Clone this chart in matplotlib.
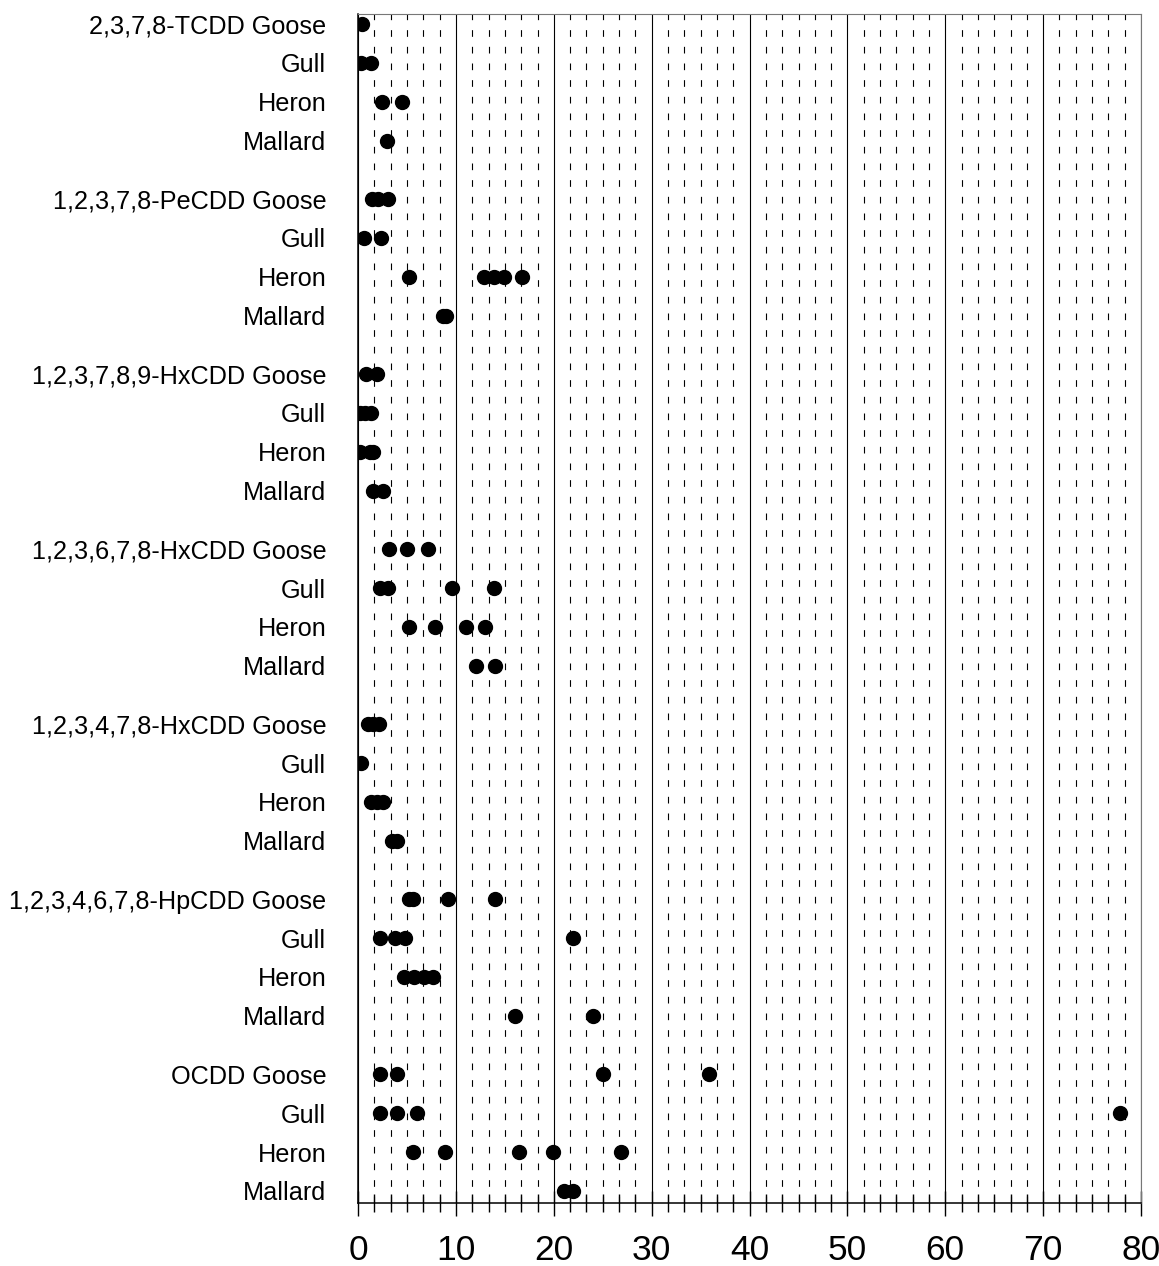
import matplotlib.pyplot as plt
import matplotlib.ticker as mticker
import numpy as np

plt.rcParams['font.family'] = ['Liberation Sans', 'DejaVu Sans']

congeners = ["2,3,7,8-TCDD", "1,2,3,7,8-PeCDD", "1,2,3,7,8,9-HxCDD",
             "1,2,3,6,7,8-HxCDD", "1,2,3,4,7,8-HxCDD", "1,2,3,4,6,7,8-HpCDD",
             "OCDD"]
species = ["Goose", "Gull", "Heron", "Mallard"]

# one list of values per species, in the order of the congeners above
goose = [
    [0.4],
    [1.4, 2.0, 3.1],
    [0.8, 1.9],
    [3.2, 5.0, 7.1],
    [1.0, 1.5, 2.1],
    [5.2, 5.6, 9.2, 14.0],
    [2.2, 4.0, 25.0, 35.9],
]
gull = [
    [0.3, 1.3],
    [0.6, 2.3],
    [0.2, 0.7, 1.3],
    [2.2, 3.1, 9.6, 13.9],
    [0.3],
    [2.2, 3.8, 4.8, 22.0],
    [2.2, 4.0, 6.0, 77.9],
]
heron = [
    [2.4, 4.5],
    [5.2, 12.9, 13.9, 14.9, 16.7],
    [0.2, 1.2, 1.5],
    [5.2, 7.9, 11.0, 13.0],
    [1.3, 1.9, 2.5],
    [4.7, 5.7, 6.7, 7.7],
    [5.6, 8.9, 16.4, 19.9, 26.9],
]
mallard = [
    [2.9],
    [8.7, 9.0],
    [1.5, 2.5],
    [12.0, 14.0],
    [3.5, 4.0],
    [16.0, 24.0],
    [21.0, 22.0],
]
series = [goose, gull, heron, mallard]

fig = plt.figure(figsize=(11.59, 12.66), dpi=100)
ax = fig.add_axes([0.309, 0.0498, 0.6755, 0.9392])

positions = []
labels = []
for g, name in enumerate(congeners):
    for i, sp in enumerate(species):
        pos = g * 4.5 + i
        positions.append(pos)
        labels.append(name + " " + sp if i == 0 else sp)
        vals = series[i][g]
        ax.plot(vals, [pos] * len(vals), 'o', color='black',
                markersize=10, linestyle='none', zorder=3)

ax.set_xlim(0, 80)
ax.set_ylim(30.31, -0.26)
ax.set_yticks(positions)
ax.set_yticklabels(labels, fontsize=18.2)
ax.tick_params(axis='y', length=0, pad=23)

ax.xaxis.set_major_locator(mticker.MultipleLocator(10))
ax.xaxis.set_minor_locator(mticker.MultipleLocator(10 / 6))
ax.tick_params(axis='x', which='major', direction='inout', length=18,
               width=1, labelsize=25.5, pad=13)
ax.tick_params(axis='x', which='minor', direction='inout', length=13,
               width=1)

ax.grid(True, which='major', axis='x', color='black', linewidth=0.8)
ax.grid(True, which='minor', axis='x', color='black', linewidth=0.8,
        linestyle=(0, (6, 9)))
ax.set_axisbelow(True)

for side in ['left', 'bottom']:
    ax.spines[side].set_linewidth(1.1)
for side in ['top', 'right']:
    ax.spines[side].set_color('#777777')
    ax.spines[side].set_linewidth(0.8)

fig.savefig("out.png", dpi=100)
